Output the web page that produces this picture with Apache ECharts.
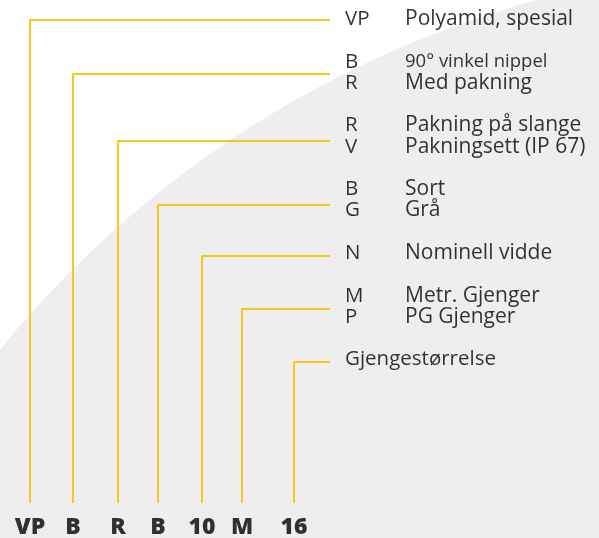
<!DOCTYPE html>
<html>
<head>
<meta charset="utf-8">
<script src="https://cdn.jsdelivr.net/npm/echarts@6/dist/echarts.min.js"></script>
<style>
html, body { margin: 0; padding: 0; background: #fff; }
#chart { width: 599px; height: 538px; }
</style>
</head>
<body>
<div id="chart"></div>
<script>
// order code parts along the bottom
const codes = ['VP', 'B', 'R', 'B', '10', 'M', '16'];
const codeX = [30, 73, 118, 158, 202, 242, 294];
// level of each connector (one per code part)
const levelY = [20, 74, 141, 205, 256, 309, 362];
// legend rows on the right
const keys = ['VP', 'B', 'R', 'R', 'V', 'B', 'G', 'N', 'M', 'P', 'Gjengestørrelse'];
const descs = ['Polyamid, spesial', '90° vinkel nippel', 'Med pakning', 'Pakning på slange',
  'Pakningsett (IP 67)', 'Sort', 'Grå', 'Nominell vidde', 'Metr. Gjenger', 'PG Gjenger', ''];
const keyY = [19, 62, 83, 125, 147, 189, 210, 253, 296, 317, 359];

const chart = echarts.init(document.getElementById('chart'));
const YELLOW = '#f5c81c';
const FONT = 'Open Sans';
const baseY = 503; // where the connectors start, above the code text
const endX = 330;  // right end of the connectors

const series = [];
codes.forEach((c, i) => {
  series.push({
    type: 'line',
    silent: true,
    symbol: 'none',
    lineStyle: { color: YELLOW, width: 2 },
    data: [[codeX[i], baseY], [codeX[i], levelY[i]], [endX, levelY[i]]],
  });
});
// code parts
series.push({
  type: 'scatter',
  symbolSize: 0,
  silent: true,
  data: codes.map((c, i) => [codeX[i], 527, c]),
  label: {
    show: true,
    position: 'inside',
    formatter: p => p.data[2],
    color: '#000',
    fontFamily: FONT,
    fontWeight: 800,
    fontSize: 23,
  },
});
// keys
series.push({
  type: 'scatter',
  symbolSize: 0,
  silent: true,
  data: keys.map((k, i) => [345, keyY[i], k]),
  label: {
    show: true,
    position: 'right',
    distance: 0,
    formatter: p => p.data[2],
    color: '#000',
    fontFamily: FONT,
    fontSize: 20.5,
  },
});
// descriptions
series.push({
  type: 'scatter',
  symbolSize: 0,
  silent: true,
  data: descs.map((d, i) => ({
    value: [405, keyY[i], d],
    label: d === '90° vinkel nippel' ? { fontSize: 18.5 } : {},
  })),
  label: {
    show: true,
    position: 'right',
    distance: 0,
    formatter: p => p.data.value[2],
    color: '#000',
    fontFamily: FONT,
    fontSize: 21,
  },
});

chart.setOption({
  animation: false,
  backgroundColor: '#fff',
  grid: { left: 0, right: 0, top: 0, bottom: 0 },
  xAxis: { type: 'value', min: 0, max: 599, show: false },
  yAxis: { type: 'value', min: 0, max: 538, inverse: true, show: false },
  graphic: [{
    type: 'circle',
    z: -10,
    silent: true,
    shape: { cx: 817, cy: 1017, r: 1055 },
    style: { fill: '#eeeeee' },
  }],
  series: series,
});
</script>
</body>
</html>
